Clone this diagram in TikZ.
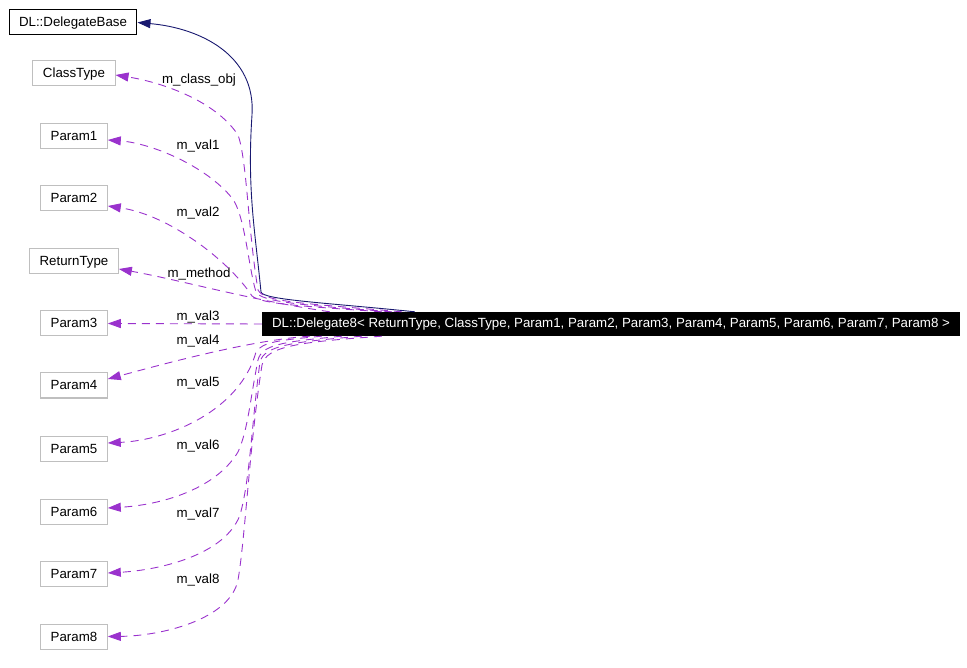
\documentclass[tikz,border=0pt]{standalone}
\usepackage{fontspec}
\setmainfont{Liberation Sans}
\usetikzlibrary{arrows.meta}
\definecolor{basenavy}{HTML}{191970}
\definecolor{usageorchid}{HTML}{9A32CD}
\definecolor{classgray}{HTML}{BFBFBF}

\begin{document}
\begin{tikzpicture}[x=1pt, y=-1pt, >={Triangle[length=13pt,width=9pt]}, font=\fontsize{13.3}{16}\selectfont,
    classbox/.style={draw=classgray, line width=1pt, minimum height=25pt, inner xsep=10pt, inner ysep=0pt, text height=10pt, text depth=1pt},
    basebox/.style={classbox, draw=black},
    usage/.style={->, draw=usageorchid, line width=0.9pt, dash pattern=on 8pt off 6pt},
    inherit/.style={->, draw=basenavy, line width=0.9pt},
    varlabel/.style={inner sep=1pt}]
    \useasboundingbox (0,0) rectangle (967,668);
    \node[basebox] (base) at (73,22.5) {DL::DelegateBase};
    \node[classbox] (classtype) at (74,73.5) {ClassType};
    \node[classbox] (param1) at (74,136.5) {Param1};
    \node[classbox] (param2) at (74,198.5) {Param2};
    \node[classbox] (returntype) at (74,261.5) {ReturnType};
    \node[classbox] (param3) at (74,323.5) {Param3};
    \node[classbox] (param4) at (74,385.5) {Param4};
    \node[classbox] (param5) at (74,448.5) {Param5};
    \node[classbox] (param6) at (74,511.5) {Param6};
    \node[classbox] (param7) at (74,573.5) {Param7};
    \node[classbox] (param8) at (74,636.5) {Param8};
    \node[fill=black, text=white, minimum width=698pt, minimum height=24pt, inner sep=0pt] (delegate) at (611,324) {DL::Delegate8< ReturnType, ClassType, Param1, Param2, Param3, Param4, Param5, Param6, Param7, Param8 >};
    \node[varlabel] (lclassobj) at (199,80) {m\_class\_obj};
    \node[varlabel] (lval1) at (198,146) {m\_val1};
    \node[varlabel] (lval2) at (198,213) {m\_val2};
    \node[varlabel] (lmethod) at (199,274) {m\_method};
    \node[varlabel] (lval3) at (198,317) {m\_val3};
    \node[varlabel] (lval4) at (198,341) {m\_val4};
    \node[varlabel] (lval5) at (198,383) {m\_val5};
    \node[varlabel] (lval6) at (198,446) {m\_val6};
    \node[varlabel] (lval7) at (198,514) {m\_val7};
    \node[varlabel] (lval8) at (198,580) {m\_val8};
    \draw[inherit] ([xshift=153pt]delegate.north west) .. controls (330,303) and (263,300) .. (261,292) .. controls (255,230) and (247,190) .. (252,115) .. controls (256,55) and (200,28) .. (base.east);
    \draw[usage] ([xshift=140pt]delegate.north west) .. controls (300,303) and (264,302) .. (258,290) .. controls (248,230) and (247,160) .. (238,135) .. controls (215,100) and (160,82) .. ([yshift=-1.5pt]classtype.east);
    \draw[usage] ([xshift=130pt]delegate.north west) .. controls (300,305) and (262,302) .. (256,292) .. controls (248,265) and (245,215) .. (232,198) .. controls (205,165) and (150,143) .. ([yshift=-3.5pt]param1.east);
    \draw[usage] ([xshift=120pt]delegate.north west) .. controls (300,306) and (262,304) .. (252,296) .. controls (230,262) and (170,215) .. ([yshift=-7.5pt]param2.east);
    \draw[usage] ([xshift=68pt]delegate.north west) .. controls (250,300) and (180,280) .. ([yshift=-7.5pt]returntype.east);
    \draw[usage] (delegate.west) -- (param3.east);
    \draw[usage] ([xshift=48pt]delegate.south west) .. controls (250,340) and (160,365) .. ([yshift=6.5pt]param4.east);
    \draw[usage] ([xshift=60pt]delegate.south west) .. controls (280,340) and (262,342) .. (256,352) .. controls (240,410) and (170,440) .. ([yshift=5.5pt]param5.east);
    \draw[usage] ([xshift=80pt]delegate.south west) .. controls (280,342) and (262,345) .. (258,360) .. controls (250,400) and (248,430) .. (238,452) .. controls (215,490) and (160,505) .. ([yshift=3.5pt]param6.east);
    \draw[usage] ([xshift=100pt]delegate.south west) .. controls (290,342) and (264,346) .. (260,362) .. controls (252,420) and (250,480) .. (240,515) .. controls (225,555) and (160,570) .. ([yshift=0.5pt]param7.east);
    \draw[usage] ([xshift=120pt]delegate.south west) .. controls (300,342) and (266,346) .. (262,365) .. controls (250,440) and (245,540) .. (238,580) .. controls (230,620) and (160,636) .. (param8.east);
\end{tikzpicture}
\end{document}
